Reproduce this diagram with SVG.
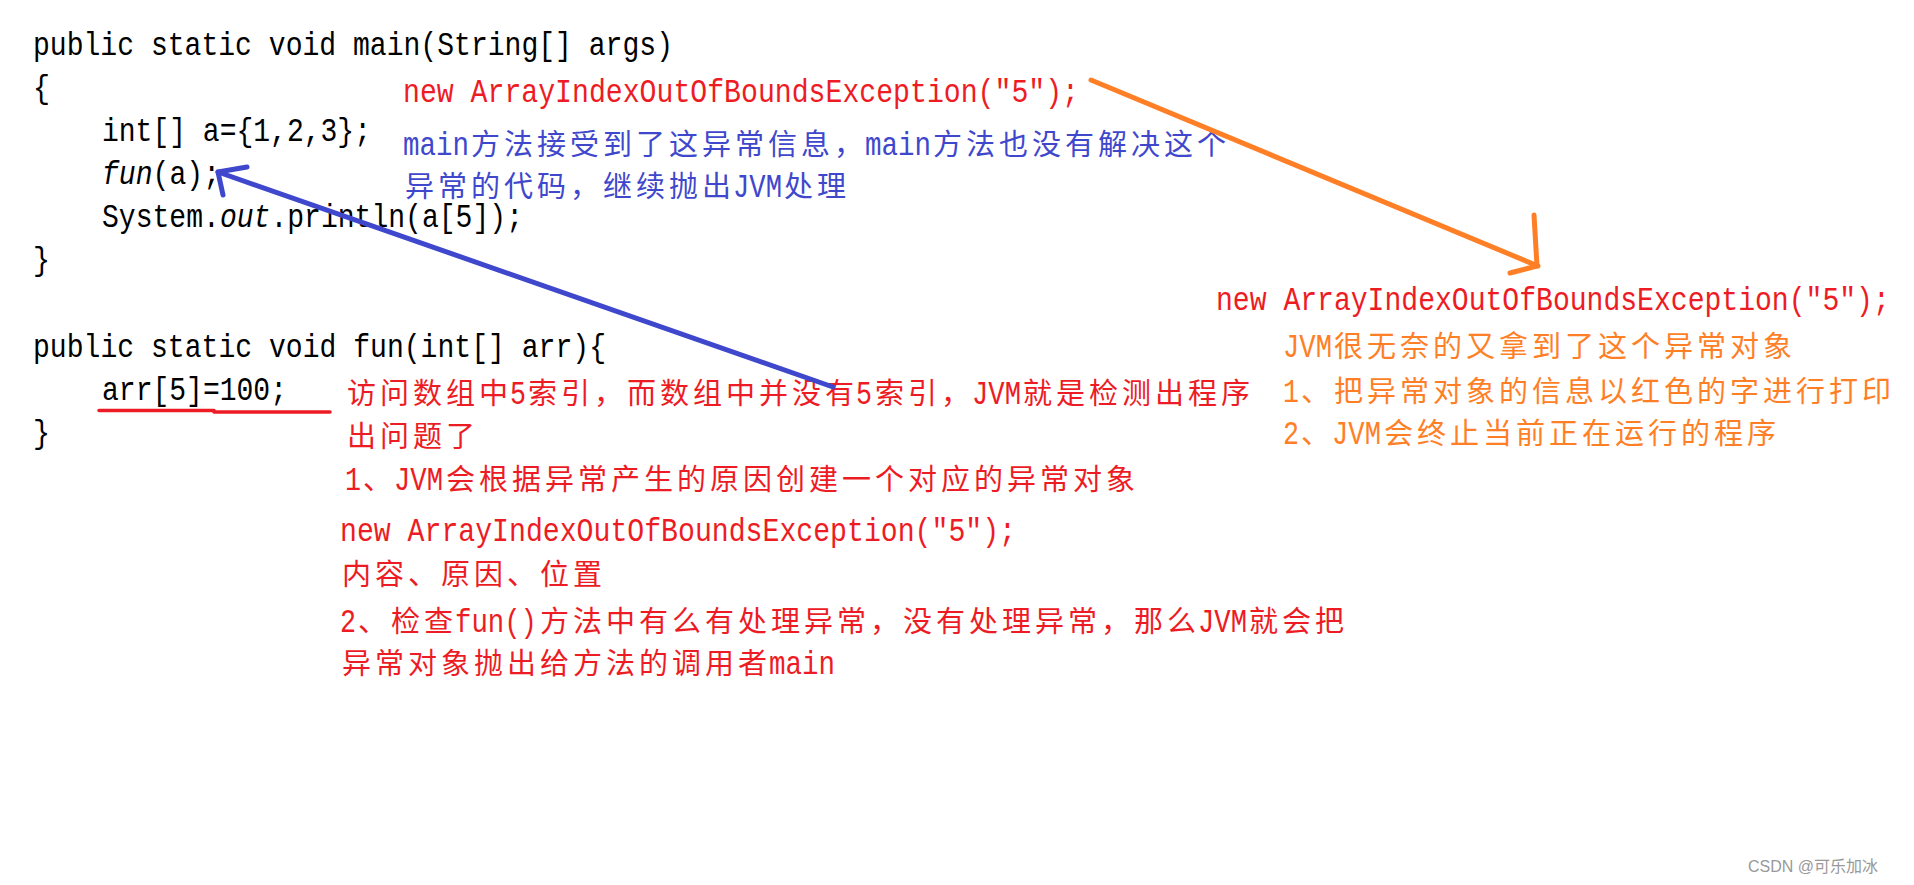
<svg xmlns="http://www.w3.org/2000/svg" width="1914" height="885" viewBox="0 0 1914 885">
<style>
.code{font-family:"Liberation Mono",monospace;font-size:33px;fill:#000}
.L{font-family:"Liberation Mono",monospace;font-size:33px}
.C{font-family:"Noto Sans CJK SC",sans-serif;font-size:29px;letter-spacing:4px}
.red{fill:#ED1C24}
.blue{fill:#3F48CC}
.orange{fill:#FF7F27}
.it{font-style:italic}
.wm{font-family:"Liberation Sans","Noto Sans CJK SC",sans-serif;font-size:16px;fill:#999}
.ab{fill:none;stroke:#3F48CC;stroke-width:5;stroke-linecap:round;stroke-linejoin:round}
.ao{fill:none;stroke:#FF7F27;stroke-width:5;stroke-linecap:round;stroke-linejoin:round}
</style>
<rect width="1914" height="885" fill="#fff"/>
<g id="main-code">
<text class="code" x="33" y="55" textLength="640" lengthAdjust="spacingAndGlyphs">public static void main(String[] args)</text>
<text class="code" x="33" y="98" textLength="17" lengthAdjust="spacingAndGlyphs">{</text>
<text class="code" x="102" y="141" textLength="269" lengthAdjust="spacingAndGlyphs">int[] a={1,2,3};</text>
<text class="code" x="102" y="184" textLength="118" lengthAdjust="spacingAndGlyphs"><tspan class="it">fun</tspan>(a);</text>
<text class="code" x="102" y="227" textLength="421" lengthAdjust="spacingAndGlyphs">System.<tspan class="it">out</tspan>.println(a[5]);</text>
<text class="code" x="33" y="270" textLength="17" lengthAdjust="spacingAndGlyphs">}</text>
</g>
<g id="fun-code">
<text class="code" x="33" y="357" textLength="573" lengthAdjust="spacingAndGlyphs">public static void fun(int[] arr){</text>
<text class="code" x="102" y="400" textLength="185" lengthAdjust="spacingAndGlyphs">arr[5]=100;</text>
<text class="code" x="33" y="443" textLength="17" lengthAdjust="spacingAndGlyphs">}</text>
<path d="M99 410.5 L214 410.5 M214 412 L330 412" stroke="#ED1C24" stroke-width="3.5" stroke-linecap="round" fill="none"/>
</g>
<g id="main-note">
<text class="L red" x="403" y="102" textLength="676" lengthAdjust="spacingAndGlyphs">new ArrayIndexOutOfBoundsException("5");</text>
<text class="blue" y="155"><tspan class="L" x="403" textLength="66" lengthAdjust="spacingAndGlyphs">main</tspan><tspan class="C" x="471">方法接受到了这异常信息，</tspan><tspan class="L" x="865" textLength="66" lengthAdjust="spacingAndGlyphs">main</tspan><tspan class="C" x="933">方法也没有解决这个</tspan></text>
<text class="blue" y="197"><tspan class="C" x="405">异常的代码，继续抛出</tspan><tspan class="L" x="733" textLength="49" lengthAdjust="spacingAndGlyphs">JVM</tspan><tspan class="C" x="784">处理</tspan></text>
</g>
<g id="fun-note">
<text class="red" y="404"><tspan class="C" x="347">访问数组中</tspan><tspan class="L" x="510" textLength="16" lengthAdjust="spacingAndGlyphs">5</tspan><tspan class="C" x="528">索引，而数组中并没有</tspan><tspan class="L" x="856" textLength="16" lengthAdjust="spacingAndGlyphs">5</tspan><tspan class="C" x="875">索引，</tspan><tspan class="L" x="972" textLength="49" lengthAdjust="spacingAndGlyphs">JVM</tspan><tspan class="C" x="1023">就是检测出程序</tspan></text>
<text class="red" y="447"><tspan class="C" x="347">出问题了</tspan></text>
<text class="red" y="490"><tspan class="L" x="345" textLength="16" lengthAdjust="spacingAndGlyphs">1</tspan><tspan class="C" x="363">、</tspan><tspan class="L" x="394" textLength="49" lengthAdjust="spacingAndGlyphs">JVM</tspan><tspan class="C" x="446">会根据异常产生的原因创建一个对应的异常对象</tspan></text>
<text class="L red" x="340" y="541" textLength="676" lengthAdjust="spacingAndGlyphs">new ArrayIndexOutOfBoundsException("5");</text>
<text class="red" y="585"><tspan class="C" x="342">内容、原因、位置</tspan></text>
<text class="red" y="632"><tspan class="L" x="340" textLength="16" lengthAdjust="spacingAndGlyphs">2</tspan><tspan class="C" x="358">、检查</tspan><tspan class="L" x="455" textLength="82" lengthAdjust="spacingAndGlyphs">fun()</tspan><tspan class="C" x="540">方法中有么有处理异常，没有处理异常，那么</tspan><tspan class="L" x="1198" textLength="49" lengthAdjust="spacingAndGlyphs">JVM</tspan><tspan class="C" x="1249">就会把</tspan></text>
<text class="red" y="674"><tspan class="C" x="342">异常对象抛出给方法的调用者</tspan><tspan class="L" x="769" textLength="66" lengthAdjust="spacingAndGlyphs">main</tspan></text>
</g>
<g id="jvm-note">
<text class="L red" transform="translate(1216 310) scale(0.851 1)" x="0" y="0">new ArrayIndexOutOfBoundsException("5");</text>
<text class="orange" y="357"><tspan class="L" x="1283" textLength="49" lengthAdjust="spacingAndGlyphs">JVM</tspan><tspan class="C" x="1334">很无奈的又拿到了这个异常对象</tspan></text>
<text class="orange" y="402"><tspan class="L" x="1283" textLength="16" lengthAdjust="spacingAndGlyphs">1</tspan><tspan class="C" x="1301">、把异常对象的信息以红色的字进行打印</tspan></text>
<text class="orange" y="444"><tspan class="L" x="1283" textLength="16" lengthAdjust="spacingAndGlyphs">2</tspan><tspan class="C" x="1301">、</tspan><tspan class="L" x="1332" textLength="49" lengthAdjust="spacingAndGlyphs">JVM</tspan><tspan class="C" x="1384">会终止当前正在运行的程序</tspan></text>
</g>
<g id="connectors">
<path class="ab" d="M833 387 L218 172"/>
<path class="ab" d="M247 167 L218 172 L223 195"/>
<path class="ao" d="M1091 80 L1538 266"/>
<path class="ao" d="M1534 215 L1537 266 L1510 273"/>
</g>
<g id="watermark">
<text class="wm" x="1748" y="872">CSDN @可乐加冰</text>
</g>
</svg>
